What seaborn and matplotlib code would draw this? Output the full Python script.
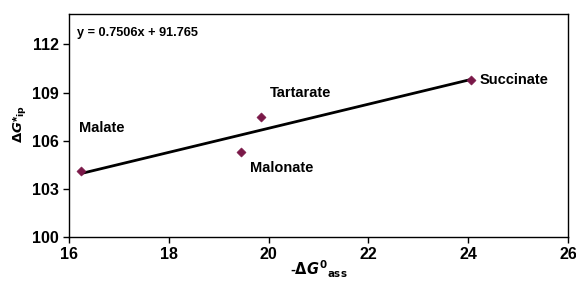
import matplotlib
matplotlib.use("Agg")
import matplotlib.pyplot as plt
import seaborn as sns
import numpy as np
import pandas as pd

# data
anions = ["Malate", "Malonate", "Tartarate", "Succinate"]
neg_dG_ass = [16.25, 19.45, 19.85, 24.05]
dG_ip = [104.1, 105.3, 107.5, 109.8]
slope = 0.7506
intercept = 91.765
x_ticks = [16, 18, 20, 22, 24, 26]
y_ticks = [100, 103, 106, 109, 112]

sns.set_theme(style="ticks")
plt.rcParams['font.family'] = ['Liberation Sans', 'DejaVu Sans']
plt.rcParams['font.weight'] = 'bold'
plt.rcParams['text.color'] = 'black'
plt.rcParams['axes.labelcolor'] = 'black'
plt.rcParams['xtick.color'] = 'black'
plt.rcParams['ytick.color'] = 'black'

df = pd.DataFrame({"anion": anions, "x": neg_dG_ass, "y": dG_ip})
fit_x = np.array([min(neg_dG_ass), max(neg_dG_ass)])
fit = pd.DataFrame({"x": fit_x, "y": slope * fit_x + intercept})

fig = plt.figure(figsize=(5.76, 2.81), dpi=100)
ax = fig.add_axes([69/576, 1 - 237/281, (568-69)/576, (237-14)/281])

sns.lineplot(data=fit, x="x", y="y", ax=ax, color="black", linewidth=2, zorder=2)
sns.scatterplot(data=df, x="x", y="y", ax=ax, marker="D", s=22, color="#7a1848",
                edgecolor="#7a1848", zorder=3)

ax.set_xlim(16, 26)
ax.set_ylim(100, 113.9)
ax.set_xticks(x_ticks)
ax.set_yticks(y_ticks)
ax.tick_params(axis="both", labelsize=11.5, direction="out", length=4, width=1, color="black")
for lab in ax.get_xticklabels() + ax.get_yticklabels():
    lab.set_fontweight("bold")
for s in ax.spines.values():
    s.set_color("black")
    s.set_linewidth(1)

ax.set_xlabel(r"-$\Delta\mathit{G}^{\mathbf{0}}$$_{\mathrm{ass}}$", fontsize=10.5, fontweight="bold")
ax.xaxis.set_label_coords(0.5, -0.095)
ax.set_ylabel(r"$\Delta\mathit{G}$*$_{\mathrm{ip}}$", fontsize=9.5, fontweight="bold")
ax.yaxis.set_label_coords(-0.082, 0.505)

label_pos = {"Malate": (16.2, 106.8), "Malonate": (19.63, 104.3),
             "Tartarate": (20.03, 109.0), "Succinate": (24.22, 109.8)}
for name in anions:
    px, py = label_pos[name]
    ax.text(px, py, name, fontsize=10.5, fontweight="bold", va="center", ha="left")

ax.text(0.017, 0.915, f"y = {slope}x + {intercept}", transform=ax.transAxes,
        fontsize=9.2, fontweight="bold", va="center", ha="left")

fig.savefig("out.png", dpi=100)
